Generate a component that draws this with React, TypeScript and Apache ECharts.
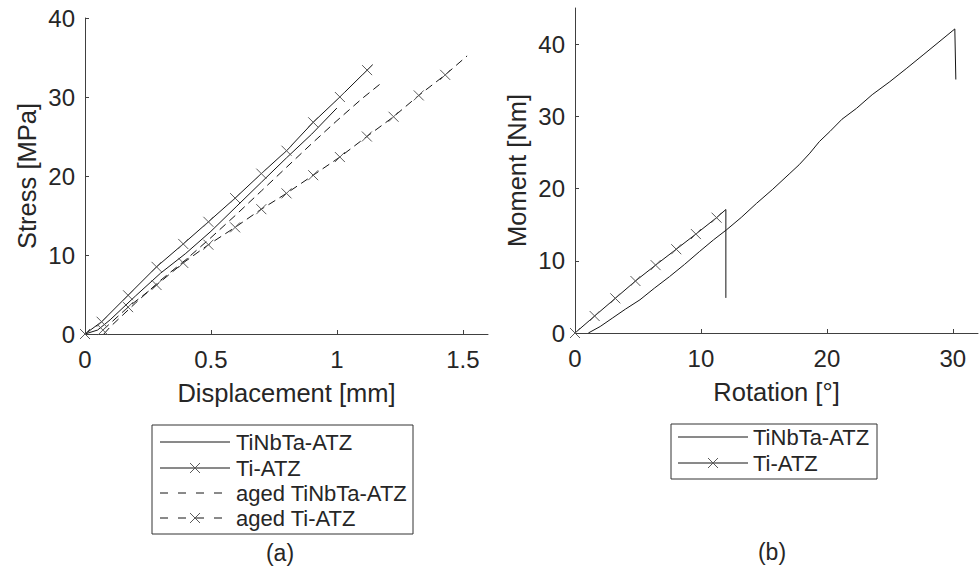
import React, { useEffect, useRef } from "react";
import * as echarts from "echarts";

// ---------- data ----------
// (a) Stress [MPa] vs Displacement [mm]
const dispTiNbTa: number[][] = [
  [0, 0], [0.05, 0.5], [0.1, 1.8], [0.2, 4.8], [0.3, 7.7], [0.4, 10.2], [0.5, 13.0],
  [0.6, 16.1], [0.7, 19.2], [0.8, 22.3], [0.9, 25.3], [1.0, 28.6],
];
const dispTiAtz: number[][] = [
  [0, 0], [0.066, 1.55], [0.171, 4.9], [0.284, 8.5], [0.39, 11.4], [0.49, 14.2], [0.596, 17.2],
  [0.7, 20.3], [0.8, 23.2], [0.906, 26.8], [1.012, 30.0], [1.12, 33.4], [1.142, 34.1],
];
const dispTiAtzMarkers = 12;
const dispAgedTiNbTa: number[][] = [
  [0.075, 0], [0.1, 0.9], [0.2, 3.9], [0.3, 6.8], [0.4, 9.4], [0.5, 12.2], [0.6, 15.1],
  [0.7, 18.1], [0.8, 21.1], [0.9, 24.1], [1.0, 27.0], [1.1, 29.8], [1.17, 31.6],
];
const dispAgedTiAtz: number[][] = [
  [0.071, 0.5], [0.171, 3.4], [0.284, 6.2], [0.39, 9.0], [0.49, 11.3], [0.596, 13.5],
  [0.7, 15.8], [0.8, 17.8], [0.906, 20.1], [1.012, 22.4], [1.119, 25.0], [1.225, 27.5],
  [1.325, 30.2], [1.43, 32.8], [1.517, 35.2],
];
const dispAgedTiAtzMarkers = 14;

// (b) Moment [Nm] vs Rotation [°]
const rotTiNbTa: number[][] = [
  [1.06, 0], [2.0, 0.9], [3.0, 2.1], [4.0, 3.3], [5.16, 4.6], [6.3, 6.2], [7.5, 7.8],
  [8.7, 9.5], [9.9, 11.3], [11.0, 12.9], [12.04, 14.3], [13.2, 16.0], [14.42, 17.96],
  [15.7, 19.9], [17.06, 22.1], [17.8, 23.3], [18.65, 24.9], [19.4, 26.5], [20.24, 27.9],
  [21.2, 29.6], [22.35, 31.1], [23.6, 33.0], [25.0, 34.8], [26.3, 36.6], [27.64, 38.5],
  [28.9, 40.3], [30.16, 42.1], [30.24, 35.1],
];
const rotTiAtz: number[][] = [
  [0, 0], [1.56, 2.35], [3.2, 4.8], [4.8, 7.2], [6.4, 9.4], [8.04, 11.6], [9.6, 13.7],
  [11.24, 15.97], [11.98, 17.1], [11.98, 4.86],
];
const rotTiAtzMarkers = 8;

// ticks
const dispTicks = [0, 0.5, 1, 1.5];
const stressTicks = [0, 10, 20, 30, 40];
const rotTicks = [0, 10, 20, 30];
const momentTicks = [0, 10, 20, 30, 40];

const legendA = ["TiNbTa-ATZ", "Ti-ATZ", "aged TiNbTa-ATZ", "aged Ti-ATZ"];
const legendB = ["TiNbTa-ATZ", "Ti-ATZ"];

// ---------- styles ----------
const FONT = "'Liberation Sans', Arial, Helvetica, sans-serif";
const TEXT = "#262626";
const AXIS = "#404040";
const LINE = "#151515";
const MARK = "#5a5a5a";
const XSYM = "path://M0,0L10,10M10,0L0,10";
const DASH = [8, 5];
const TICK_FS = 24;
const NAME_FS = 25.5;
const LEG_FS = 22;

function withMarkers(points: number[][], count: number) {
  return points.map((p, i) => (i < count ? p : { value: p, symbol: "none" }));
}

function lineSeries(
  name: string,
  data: any[],
  axis: number,
  marked: boolean,
  dashed: boolean
) {
  return {
    name,
    type: "line",
    xAxisIndex: axis,
    yAxisIndex: axis,
    data,
    symbol: marked ? XSYM : "none",
    symbolSize: 10,
    showSymbol: marked,
    itemStyle: { color: MARK, borderColor: MARK, borderWidth: 1 },
    lineStyle: { color: LINE, width: 1, type: dashed ? DASH : "solid" },
    emphasis: { disabled: true },
    z: 3,
  };
}

function xAxisCfg(grid: number, max: number, ticks: number[], name: string) {
  return {
    gridIndex: grid,
    type: "value",
    min: 0,
    max,
    axisLine: { show: true, onZero: false, lineStyle: { color: AXIS, width: 1 } },
    axisTick: { show: true, inside: true, length: 4, customValues: ticks, lineStyle: { color: AXIS } },
    axisLabel: { customValues: ticks, margin: 13, fontSize: TICK_FS, color: TEXT, fontFamily: FONT },
    splitLine: { show: false },
    name,
    nameLocation: "middle",
    nameGap: 46,
    nameMoveOverlap: false,
    nameTextStyle: { fontSize: NAME_FS, color: TEXT, fontFamily: FONT },
  };
}

function yAxisCfg(grid: number, max: number, ticks: number[], name: string) {
  return {
    gridIndex: grid,
    type: "value",
    min: 0,
    max,
    axisLine: { show: true, onZero: false, lineStyle: { color: AXIS, width: 1 } },
    axisTick: { show: true, inside: true, length: 4, customValues: ticks, lineStyle: { color: AXIS } },
    axisLabel: { customValues: ticks, margin: 10, fontSize: TICK_FS, color: TEXT, fontFamily: FONT },
    splitLine: { show: false },
    name,
    nameLocation: "middle",
    nameGap: 45,
    nameRotate: 90,
    nameMoveOverlap: false,
    nameTextStyle: { fontSize: NAME_FS, color: TEXT, fontFamily: FONT },
  };
}

function legendGraphics(
  box: { x: number; y: number; w: number; h: number },
  rows: number[],
  labels: string[],
  lineX1: number,
  lineX2: number,
  textX: number,
  marked: boolean[],
  dashed: boolean[]
) {
  const els: any[] = [
    {
      type: "rect",
      shape: { x: box.x, y: box.y, width: box.w, height: box.h },
      style: { fill: "#fff", stroke: "#333", lineWidth: 1 },
      z: 10,
    },
  ];
  const mid = (lineX1 + lineX2) / 2;
  labels.forEach((label, i) => {
    const y = rows[i];
    els.push({
      type: "line",
      shape: { x1: lineX1, y1: y, x2: lineX2, y2: y },
      style: { stroke: LINE, lineWidth: 1, lineDash: dashed[i] ? [8, 10] : null },
      z: 11,
    });
    if (marked[i]) {
      els.push({
        type: "line",
        shape: { x1: mid - 5, y1: y - 5, x2: mid + 5, y2: y + 5 },
        style: { stroke: MARK, lineWidth: 1 },
        z: 12,
      });
      els.push({
        type: "line",
        shape: { x1: mid + 5, y1: y - 5, x2: mid - 5, y2: y + 5 },
        style: { stroke: MARK, lineWidth: 1 },
        z: 12,
      });
    }
    els.push({
      type: "text",
      x: textX,
      y,
      style: {
        text: label,
        fontSize: LEG_FS,
        fontFamily: FONT,
        fill: TEXT,
        align: "left",
        verticalAlign: "middle",
      },
      z: 12,
    });
  });
  return els;
}

export default function App() {
  const ref = useRef<HTMLDivElement>(null);

  useEffect(() => {
    if (!ref.current) return;
    const chart = echarts.init(ref.current, undefined, { renderer: "svg" });

    const graphics = [
      ...legendGraphics(
        { x: 152, y: 425, w: 261, h: 109 },
        [442, 468, 493, 518],
        legendA,
        160,
        230,
        236,
        [false, true, false, true],
        [false, false, true, true]
      ),
      ...legendGraphics(
        { x: 671, y: 424, w: 206, h: 55 },
        [437, 463],
        legendB,
        678,
        748,
        753,
        [false, true],
        [false, false]
      ),
      {
        type: "text",
        x: 280,
        y: 553,
        style: { text: "(a)", fontSize: 23, fontFamily: FONT, fill: TEXT, align: "center", verticalAlign: "middle" },
      },
      {
        type: "text",
        x: 772,
        y: 552,
        style: { text: "(b)", fontSize: 23, fontFamily: FONT, fill: TEXT, align: "center", verticalAlign: "middle" },
      },
    ];

    chart.setOption({
      animation: false,
      backgroundColor: "#ffffff",
      textStyle: { fontFamily: FONT },
      grid: [
        { left: 85, top: 18, width: 403, height: 316, containLabel: false, outerBoundsMode: "none" },
        { left: 575, top: 8, width: 403, height: 325, containLabel: false, outerBoundsMode: "none" },
      ],
      xAxis: [
        xAxisCfg(0, 1.6, dispTicks, "Displacement [mm]"),
        xAxisCfg(1, 32, rotTicks, "Rotation [°]"),
      ],
      yAxis: [
        yAxisCfg(0, 40, stressTicks, "Stress [MPa]"),
        yAxisCfg(1, 45, momentTicks, "Moment [Nm]"),
      ],
      series: [
        lineSeries("TiNbTa-ATZ", dispTiNbTa, 0, false, false),
        lineSeries("Ti-ATZ", withMarkers(dispTiAtz, dispTiAtzMarkers), 0, true, false),
        lineSeries("aged TiNbTa-ATZ", dispAgedTiNbTa, 0, false, true),
        lineSeries("aged Ti-ATZ", withMarkers(dispAgedTiAtz, dispAgedTiAtzMarkers), 0, true, true),
        lineSeries("TiNbTa-ATZ (b)", rotTiNbTa, 1, false, false),
        lineSeries("Ti-ATZ (b)", withMarkers(rotTiAtz, rotTiAtzMarkers), 1, true, false),
      ],
      graphic: graphics,
    });

    return () => chart.dispose();
  }, []);

  return (
    <div
      ref={ref}
      style={{ position: "absolute", left: 0, top: 0, width: 979, height: 571, background: "#fff" }}
    />
  );
}
